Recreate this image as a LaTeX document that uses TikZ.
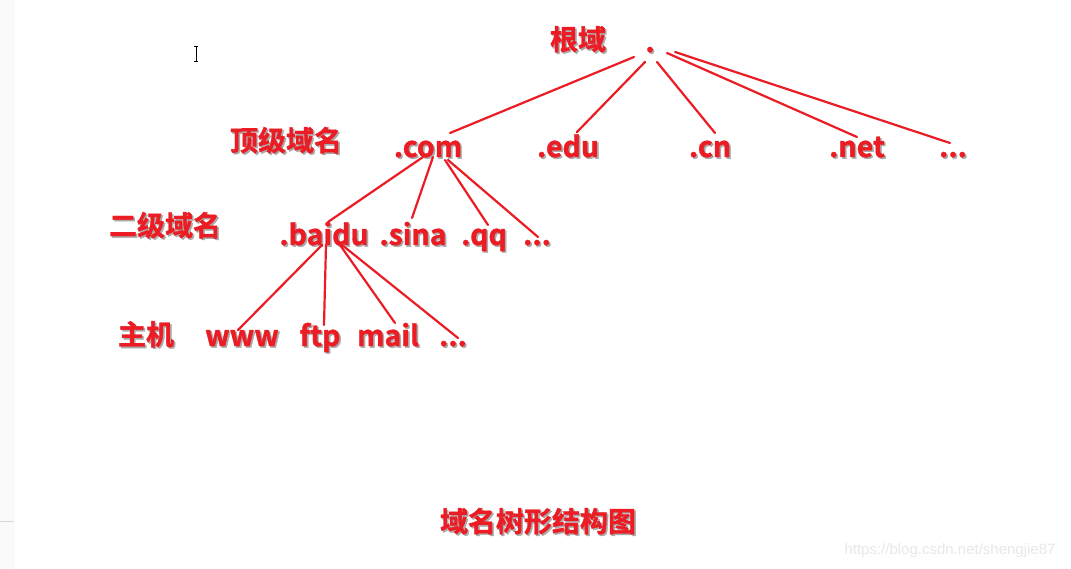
\documentclass[tikz,border=0pt]{standalone}
\usepackage{fontspec}
\setmainfont{Liberation Sans}
\newfontfamily\cjk{Noto Sans CJK SC}[BoldFont={Noto Sans CJK SC Bold}, BoldFeatures={FakeBold=1.2}]
\usetikzlibrary{calc}
\definecolor{dnsred}{RGB}{236,28,36}
\definecolor{shadowgray}{RGB}{170,170,170}
\definecolor{stripgray}{RGB}{250,250,250}
\definecolor{wmgray}{RGB}{232,232,232}
\newcommand\shtext[1]{\rlap{\kern1.6pt\raisebox{-1.6pt}{\textcolor{shadowgray}{#1}}}#1}
\tikzset{
  lbl/.style={inner sep=0pt, text=dnsred, font=\cjk\bfseries\fontsize{28}{28}\selectfont},
  latin/.style={anchor=base, font=\cjk\bfseries\fontsize{28.5}{28.5}\selectfont},
  edge/.style={draw=dnsred, line width=2.2pt, line cap=round},
}
\newcommand\tlab[4][]{\node[lbl,#1] (#2) at (#3) {\shtext{#4}};}
\begin{document}
\begin{tikzpicture}[x=1pt,y=-1pt]
\useasboundingbox (0,0) rectangle (1071,569);
\fill[white] (0,0) rectangle (1071,569);
\fill[stripgray] (0,0) rectangle (15,569);
\draw[line width=0.8pt, draw={rgb,255:red,215;green,215;blue,215}] (0,521) -- (14,521);
% cursor
\draw[line width=0.7pt] (196,46) -- (196,61) (194,46) -- (198,46) (194,61) -- (198,61);
% labels
\tlab[latin]{root}{650,52}{.}
\tlab{genyu}{578,40}{根域}
\tlab{tld}{286,141}{顶级域名}
\tlab{sld}{165,226}{二级域名}
\tlab{host}{146,335}{主机}
\tlab{title}{538,522}{域名树形结构图}
\tlab[latin]{com}{428,157}{.com}
\tlab[latin]{edu}{568,157}{.edu}
\tlab[latin]{cn}{710,157}{.cn}
\tlab[latin]{net}{857,157}{.net}
\tlab[latin]{tdots}{953,157}{...}
\tlab[latin]{baidu}{324,245}{.baidu}
\tlab[latin]{sina}{413,245}{.sina}
\tlab[latin]{qq}{484,245}{.qq}
\tlab[latin]{sdots}{537,245}{...}
\tlab[latin]{www}{242,346}{www}
\tlab[latin]{ftp}{320,346}{ftp}
\tlab[latin]{mail}{388,346}{mail}
\tlab[latin]{hdots}{453,346}{...}
% edges from root (root.base = 650,52)
\draw[edge] ([shift={(-16,5)}]root.base) -- ([shift={(22,-24)}]com.base);
\draw[edge] ([shift={(-5,10)}]root.base) -- ([shift={(9,-25)}]edu.base);
\draw[edge] ([shift={(7,10)}]root.base) -- ([shift={(5,-24)}]cn.base);
\draw[edge] ([shift={(17,1)}]root.base) -- ([shift={(0,-20)}]net.base);
\draw[edge] ([shift={(25,0)}]root.base) -- ([shift={(-3,-14)}]tdots.base);
% edges from .com
\draw[edge] ([shift={(-5,0)}]com.base) -- ([shift={(4,-23)}]baidu.base);
\draw[edge] ([shift={(5,0)}]com.base) -- ([shift={(-1,-27)}]sina.base);
\draw[edge] ([shift={(17,3)}]com.base) -- ([shift={(4,-20)}]qq.base);
\draw[edge] ([shift={(20,3)}]com.base) -- ([shift={(1,-8)}]sdots.base);
% edges from .baidu
\draw[edge] ([shift={(-2,0)}]baidu.base) -- ([shift={(-4,-16)}]www.base);
\draw[edge] ([shift={(2,0)}]baidu.base) -- ([shift={(4,-21)}]ftp.base);
\draw[edge] ([shift={(16,0)}]baidu.base) -- ([shift={(7,-23)}]mail.base);
\draw[edge] ([shift={(18,0)}]baidu.base) -- ([shift={(5,-8)}]hdots.base);
% watermark
\node[inner sep=0pt, text=wmgray, font=\fontsize{15}{15}\selectfont] (wm) at (950,551) {https://blog.csdn.net/shengjie87};
\end{tikzpicture}
\end{document}
